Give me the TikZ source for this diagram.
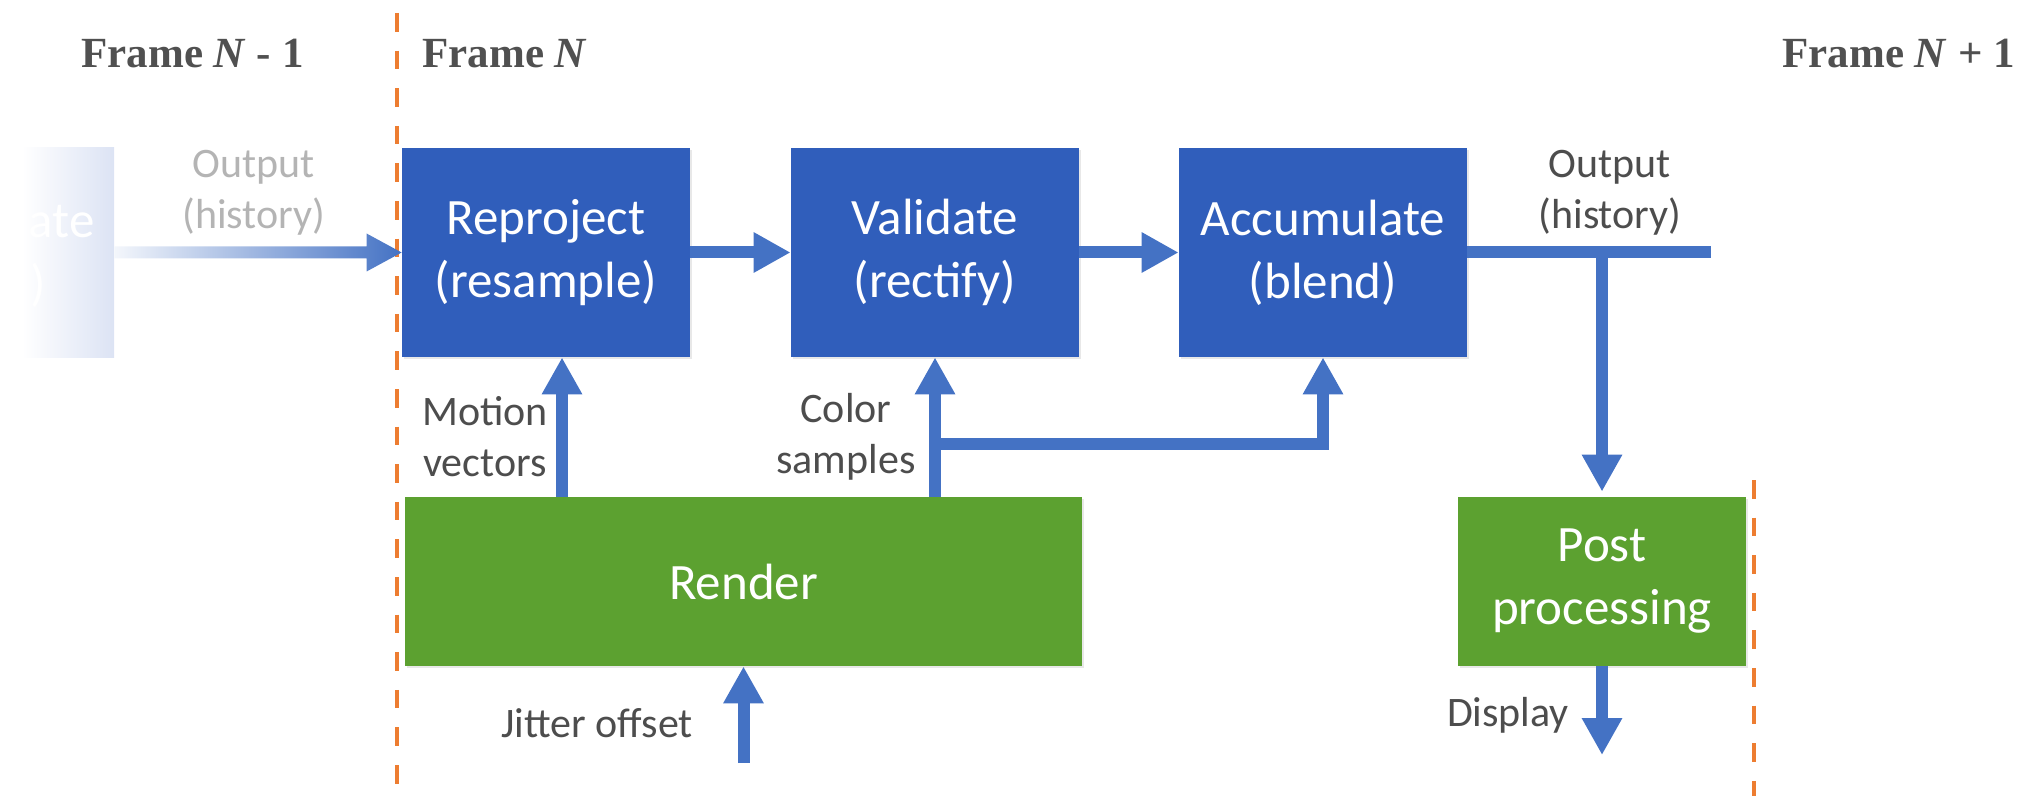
\documentclass[tikz,border=0pt]{standalone}
\usepackage{fontspec}
\setmainfont{Carlito}
\newfontfamily\tnr{Liberation Serif}
\usetikzlibrary{arrows.meta,calc,shadows}
\definecolor{boxblue}{HTML}{305EBB}
\definecolor{arrblue}{HTML}{4472C4}
\definecolor{boxgreen}{HTML}{5CA130}
\definecolor{lblgrey}{HTML}{4D4D4D}
\definecolor{frmgrey}{HTML}{505050}
\definecolor{dashorange}{HTML}{ED7D31}
\definecolor{fadegrey}{HTML}{B4B4B4}
\definecolor{fadeblue}{HTML}{DCE3F4}
\begin{document}
\begin{tikzpicture}[x=0.5pt,y=-0.5pt,
  proc/.style={rectangle, fill=#1, text=white, align=center,
    font=\fontsize{25.5}{31.5}\selectfont, inner sep=0pt,
    drop shadow={opacity=0.18, shadow xshift=1.2pt, shadow yshift=-1.2pt}},
  topbox/.style={proc=boxblue, minimum width=144pt, minimum height=104.5pt},
  flow/.style={draw=arrblue, line width=6pt, -{Triangle[length=18.5pt,width=19pt]}},
  plainline/.style={draw=arrblue, line width=6pt},
  lbl/.style={text=lblgrey, align=center, font=\fontsize{21}{25.5}\selectfont, inner sep=0pt},
  frm/.style={text=frmgrey, font=\tnr\bfseries\fontsize{21.5}{26}\selectfont, anchor=base west, inner sep=0pt},
  dashline/.style={draw=dashorange, line width=2pt, dash pattern=on 9.3pt off 9.5pt}]
\useasboundingbox (0,0) rectangle (2021,796);

% frame separators
\coordinate (d1a) at (397,13);
\coordinate (d1b) at (397,796);
\coordinate (d2a) at (1754,480);
\coordinate (d2b) at (1754,796);
\draw[dashline] (d1a) -- (d1b);
\draw[dashline] (d2a) -- (d2b);

% frame labels
\node[frm] (f1) at (81,68) {Frame \textit{N} - 1};
\node[frm] (f2) at (422,68) {Frame \textit{N}};
\node[frm] (f3) at (1782,68) {Frame \textit{N} + 1};

% faded previous box
\node[rectangle, left color=white, right color=fadeblue, minimum width=46pt,
  minimum height=104.5pt, inner sep=0pt] (prev) at (68,252.5) {};
\node[anchor=base east, text=white, font=\fontsize{25.5}{31.5}\selectfont, inner sep=0pt] (pt1) at (95,238) {ate};
\node[anchor=base east, text=white, font=\fontsize{25.5}{31.5}\selectfont, inner sep=0pt] (pt2) at (46,301) {)};

% main boxes
\node[topbox] (rep) at (546,252.5) {Reproject\\(resample)};
\node[topbox] (val) at (935,252.5) {Validate\\(rectify)};
\node[topbox] (acc) at (1323,252.5) {Accumulate\\(blend)};
\node[proc=boxgreen, minimum width=338.5pt, minimum height=84.5pt] (ren) at (743.5,581.5) {Render};
\node[proc=boxgreen, minimum width=144pt, minimum height=84.5pt] (post) at (1602,581.5) {Post\\processing};

% faded incoming arrow
\shade[left color=arrblue!6, right color=arrblue]
  ($(prev.east)+(0,-6)$) -- ($(rep.west)+(-35,-6)$) -- ($(rep.west)+(-35,-19)$) --
  (rep.west) -- ($(rep.west)+(-35,19)$) -- ($(rep.west)+(-35,6)$) --
  ($(prev.east)+(0,6)$) -- cycle;
\node[lbl, text=fadegrey] (fout) at (254,193) {Output\\(history)};

% top chain
\draw[flow] (rep.east) -- (val.west);
\draw[flow] (val.east) -- (acc.west);

% output
\coordinate (outend) at (1711,252.5);
\coordinate (br) at (1602,252.5);
\draw[plainline] (acc.east) -- (outend);
\node[lbl] (out) at (1610,193) {Output\\(history)};
\draw[flow, shorten >=2.5pt] (br) -- (post.north);
\coordinate (disp) at (1602,755);
\draw[flow] (post.south) -- (disp);
\node[lbl] (dl) at (1508,715) {Display};

% render outputs
\coordinate (mvx) at (562,0);
\draw[flow] (ren.north -| mvx) -- (rep.south -| mvx);
\node[lbl] (mv) at (485,437) {Motion\\vectors};
\draw[flow] (ren.north -| val.south) -- (val.south);
\coordinate (cj) at (935,444);
\draw[flow] (cj) -| (acc.south);
\node[lbl] (cs) at (846,437) {Color\\samples};

% jitter
\coordinate (jit) at (743.5,763);
\draw[flow] (jit) -- (ren.south);
\node[lbl] (jo) at (597,723) {Jitter offset};
\end{tikzpicture}
\end{document}
